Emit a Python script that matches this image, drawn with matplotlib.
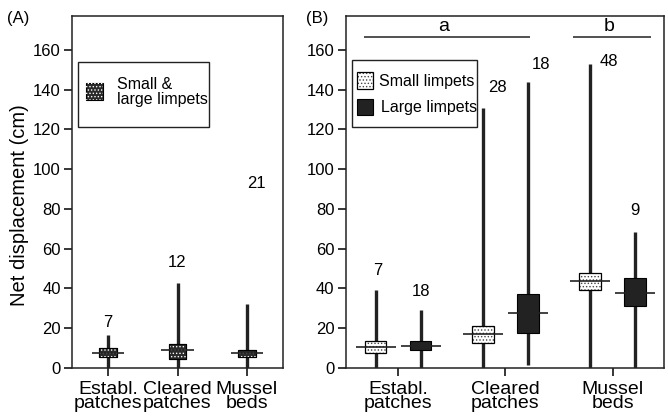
import matplotlib
matplotlib.use("Agg")
import matplotlib.pyplot as plt
from matplotlib.patches import Rectangle

plt.rcParams['font.family'] = ['Liberation Sans', 'DejaVu Sans']
plt.rcParams['hatch.linewidth'] = 0.6

# ---------------- data ----------------
categories = ["Establ.\npatches", "Cleared\npatches", "Mussel\nbeds"]

# Panel A: small & large limpets pooled
a_whisk_lo = [0, 0, 0]
a_whisk_hi = [16.5, 42.5, 32]
a_q1 = [5.6, 4.7, 5.6]
a_q3 = [10.1, 12.3, 9.3]
a_med = [7.6, 8.9, 7.6]
a_n = [7, 12, 21]
a_n_y = [23, 53, 93]
a_n_dx = [0.0, 0.0, 0.14]

# Panel B: small limpets
s_whisk_lo = [0, 0, 0]
s_whisk_hi = [39, 130.5, 153]
s_q1 = [7.3, 12.7, 39.2]
s_q3 = [13.8, 21, 48]
s_med = [10.5, 17.2, 43.8]
s_n = [7, 28, 48]
s_n_y = [49, 141, 154]
s_n_dx = [0.02, 0.14, 0.18]

# Panel B: large limpets
l_whisk_lo = [0, 1.3, 0]
l_whisk_hi = [29, 143.8, 68.5]
l_q1 = [9.2, 17.5, 31.2]
l_q3 = [13.8, 37, 45.2]
l_med = [11.3, 27.5, 37.7]
l_n = [18, 18, 9]
l_n_y = [38.5, 152.7, 79]
l_n_dx = [0.0, 0.12, 0.0]

groups_sig = [("a", -0.32, 1.23), ("b", 1.63, 2.36)]
sig_y = 166.3

yticks = [0, 20, 40, 60, 80, 100, 120, 140, 160]

# ---------------- figure ----------------
W, H = 668, 416
fig = plt.figure(figsize=(W / 100, H / 100), dpi=100)
axA = fig.add_axes([72 / W, 48 / H, 211 / W, 352 / H])
axB = fig.add_axes([345.7 / W, 48 / H, 318.3 / W, 352 / H])

DARK = "#222222"


def style_axis(ax, xlim):
    ax.set_xlim(*xlim)
    ax.set_ylim(0, 177)
    ax.set_yticks(yticks)
    ax.set_xticks(range(len(categories)))
    ax.set_xticklabels(categories, fontsize=14, linespacing=0.8)
    ax.tick_params(axis='y', labelsize=12, length=6, width=1.1, pad=2, direction='out')
    ax.tick_params(axis='x', length=6, width=1.1, pad=3, direction='out')
    for s in ax.spines.values():
        s.set_linewidth(1.1)
        s.set_color("#222222")


def draw_boxes(ax, xs, lo, hi, q1, q3, med, bw, mw, kind):
    ax.vlines(xs, lo, hi, color=DARK, lw=2.4, zorder=2)
    heights = [b - a for a, b in zip(q1, q3)]
    if kind == "pooled":
        ax.bar(xs, heights, bottom=q1, width=bw, color="#2a2a2a",
               edgecolor="black", lw=0.8, zorder=3)
        ax.bar(xs, heights, bottom=q1, width=bw, facecolor="none",
               edgecolor="white", hatch=".....", lw=0, zorder=4)
        ax.bar(xs, heights, bottom=q1, width=bw, facecolor="none",
               edgecolor="black", lw=0.8, zorder=5)
    elif kind == "small":
        ax.bar(xs, heights, bottom=q1, width=bw, color="white",
               edgecolor="#444444", hatch=".....", lw=0, zorder=3)
        ax.bar(xs, heights, bottom=q1, width=bw, facecolor="none",
               edgecolor="black", lw=0.9, zorder=5)
    else:
        ax.bar(xs, heights, bottom=q1, width=bw, color=DARK,
               edgecolor="black", lw=0.8, zorder=3)
    ax.hlines(med, [x - mw / 2 for x in xs], [x + mw / 2 for x in xs],
              color=DARK, lw=1.2, zorder=6)


# ----- Panel A -----
style_axis(axA, (-0.52, 2.52))
xa = list(range(len(categories)))
draw_boxes(axA, xa, a_whisk_lo, a_whisk_hi, a_q1, a_q3, a_med, 0.25, 0.47, "pooled")
for x, n, y, dx in zip(xa, a_n, a_n_y, a_n_dx):
    axA.text(x + dx, y, str(n), ha='center', va='center', fontsize=12)

# legend A
axA.add_patch(Rectangle((0.028, 0.685), 0.621, 0.184, transform=axA.transAxes,
                        facecolor='white', edgecolor='#222222', lw=1.0, zorder=7))
axA.add_patch(Rectangle((0.066, 0.761), 0.081, 0.049, transform=axA.transAxes,
                        facecolor='#2a2a2a', edgecolor='black', lw=0.8, zorder=8))
axA.add_patch(Rectangle((0.066, 0.761), 0.081, 0.049, transform=axA.transAxes,
                        facecolor='none', edgecolor='white', hatch='.....', lw=0, zorder=9))
axA.text(0.213, 0.784, "Small &\nlarge limpets", transform=axA.transAxes,
         ha='left', va='center', fontsize=11.5, linespacing=1.05, zorder=9)

# ----- Panel B -----
style_axis(axB, (-0.49, 2.48))
off = 0.21
xs_s = [x - off for x in range(len(categories))]
xs_l = [x + off for x in range(len(categories))]
draw_boxes(axB, xs_s, s_whisk_lo, s_whisk_hi, s_q1, s_q3, s_med, 0.2, 0.37, "small")
draw_boxes(axB, xs_l, l_whisk_lo, l_whisk_hi, l_q1, l_q3, l_med, 0.2, 0.37, "large")
for x, n, y, dx in zip(xs_s, s_n, s_n_y, s_n_dx):
    axB.text(x + dx, y, str(n), ha='center', va='center', fontsize=12)
for x, n, y, dx in zip(xs_l, l_n, l_n_y, l_n_dx):
    axB.text(x + dx, y, str(n), ha='center', va='center', fontsize=12)

for lab, x0, x1 in groups_sig:
    axB.hlines(sig_y, x0, x1, color=DARK, lw=1.1)
    axB.text((x0 + x1) / 2 - 0.03, sig_y + 1.0, lab, ha='center', va='bottom', fontsize=14)

# legend B
axB.add_patch(Rectangle((0.019, 0.685), 0.393, 0.19, transform=axB.transAxes,
                        facecolor='white', edgecolor='#222222', lw=1.0, zorder=7))
axB.add_patch(Rectangle((0.035, 0.793), 0.052, 0.047, transform=axB.transAxes,
                        facecolor='white', edgecolor='#444444', hatch='.....', lw=0, zorder=8))
axB.add_patch(Rectangle((0.035, 0.793), 0.052, 0.047, transform=axB.transAxes,
                        facecolor='none', edgecolor='black', lw=0.9, zorder=9))
axB.add_patch(Rectangle((0.035, 0.719), 0.052, 0.045, transform=axB.transAxes,
                        facecolor=DARK, edgecolor='black', lw=0.8, zorder=8))
axB.text(0.105, 0.815, "Small limpets", transform=axB.transAxes,
         ha='left', va='center', fontsize=11.5, zorder=9)
axB.text(0.112, 0.741, "Large limpets", transform=axB.transAxes,
         ha='left', va='center', fontsize=11.5, zorder=9)

# panel labels & y label
fig.text(7 / W, 1 - 19 / H, "(A)", ha='left', va='center', fontsize=12)
fig.text(306 / W, 1 - 19 / H, "(B)", ha='left', va='center', fontsize=12)
fig.text(20 / W, 1 - 205 / H, "Net displacement (cm)", rotation=90,
         ha='center', va='center', fontsize=14.5)

fig.savefig("out.png", dpi=100)
